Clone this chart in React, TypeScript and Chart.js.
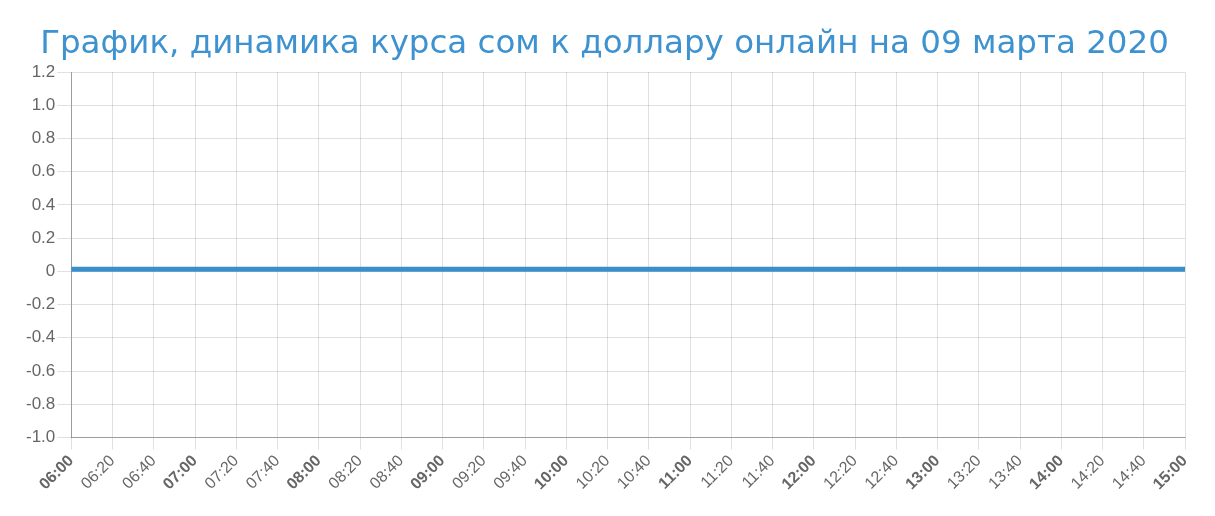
import { useEffect, useRef } from "react";
import { Chart, registerables } from "chart.js";

Chart.register(...registerables);

const times = [
  "06:00", "06:20", "06:40", "07:00", "07:20", "07:40", "08:00", "08:20", "08:40",
  "09:00", "09:20", "09:40", "10:00", "10:20", "10:40", "11:00", "11:20", "11:40",
  "12:00", "12:20", "12:40", "13:00", "13:20", "13:40", "14:00", "14:20", "14:40", "15:00",
];

// курс сома к доллару
const rates = [
  0.0128, 0.0128, 0.0122, 0.0121, 0.0121, 0.0121, 0.0121, 0.0121, 0.0121,
  0.0121, 0.0121, 0.0121, 0.0121, 0.0121, 0.0121, 0.0121, 0.0121, 0.0121,
  0.0121, 0.0121, 0.0121, 0.0121, 0.0121, 0.0121, 0.0121, 0.0127, 0.0122, 0.0122,
];

const yMin = -1.0;
const yMax = 1.2;
const yStep = 0.2;

const titleText = "График, динамика курса сом к доллару онлайн на 09 марта 2020";

const lineColor = "#3a8fcb";
const tickFont = "'Liberation Sans', Arial, sans-serif";

const App = () => {
  const canvasRef = useRef<HTMLCanvasElement | null>(null);
  const chartRef = useRef<any>(null);

  useEffect(() => {
    if (!canvasRef.current) return;
    if (chartRef.current) chartRef.current.destroy();

    chartRef.current = new Chart(canvasRef.current, {
      type: "line",
      data: {
        labels: times,
        datasets: [
          {
            data: rates,
            borderColor: lineColor,
            backgroundColor: lineColor,
            borderWidth: 5,
            pointRadius: 0,
            fill: false,
            tension: 0,
          },
        ],
      },
      options: {
        animation: false,
        responsive: true,
        maintainAspectRatio: false,
        layout: { padding: { left: 16, right: 22, bottom: 12 } },
        plugins: {
          legend: { display: false },
          tooltip: { enabled: false },
          title: {
            display: true,
            text: titleText,
            color: "#3d92cf",
            font: { family: "'DejaVu Sans', Verdana, sans-serif", size: 32.5, weight: "normal" },
            padding: { top: 17, bottom: 8 },
          },
        },
        scales: {
          x: {
            offset: false,
            grid: { color: "rgba(0,0,0,0.12)", tickLength: 12 },
            border: { color: "rgba(0,0,0,0.3)" },
            ticks: {
              color: "#666",
              autoSkip: false,
              maxRotation: 45,
              minRotation: 45,
              padding: 2,
              font: (ctx: any) => ({
                family: tickFont,
                size: 16,
                weight: times[ctx.index]?.endsWith(":00") ? "bold" : "normal",
              }),
            },
          },
          y: {
            min: yMin,
            max: yMax,
            grid: { color: "rgba(0,0,0,0.12)", tickLength: 14 },
            border: { color: "rgba(0,0,0,0.3)" },
            ticks: {
              stepSize: yStep,
              color: "#666",
              padding: 2,
              font: { family: tickFont, size: 17 },
              callback: (value: any) => (Math.abs(value) < 1e-9 ? "0" : Number(value).toFixed(1)),
            },
          },
        },
      },
    });

    return () => chartRef.current?.destroy();
  }, []);

  return (
    <div style={{ width: "100%", height: 500, position: "relative" }}>
      <canvas ref={canvasRef}></canvas>
    </div>
  );
};

export default App;
